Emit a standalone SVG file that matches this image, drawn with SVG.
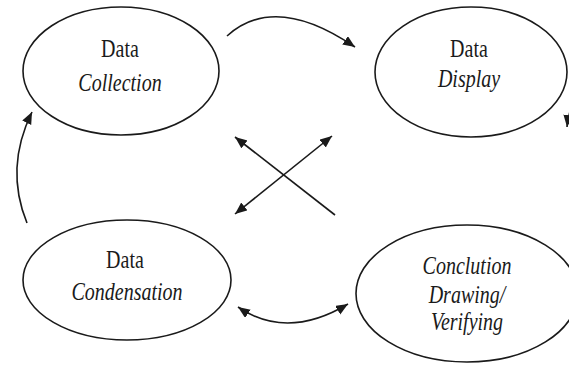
<svg xmlns="http://www.w3.org/2000/svg" width="569" height="368" viewBox="0 0 569 368">
<style>
.node ellipse{fill:#fff;stroke:#1a1a1a;stroke-width:1.6}
.t{font-family:"Liberation Serif","Times New Roman",serif;font-size:20px;fill:#1a1a1a;text-anchor:middle}
.i{font-style:italic}
.conn path{fill:none;stroke:#1a1a1a;stroke-width:1.6}
</style>
<defs>
<marker id="ah" markerUnits="userSpaceOnUse" markerWidth="14" markerHeight="12" refX="12" refY="5" orient="auto-start-reverse">
<path d="M0,0 L12,5 L0,10 Z" fill="#1a1a1a"/>
</marker>
</defs>
<rect width="569" height="368" fill="#fff"/>
<g id="n-collection" class="node">
<ellipse cx="121" cy="71" rx="98" ry="64"/>
<text class="t" transform="translate(120,57) scale(1,1.3)">Data</text>
<text class="t i" transform="translate(120,91) scale(1,1.3)">Collection</text>
</g>
<g id="n-display" class="node">
<ellipse cx="471" cy="72" rx="96" ry="65"/>
<text class="t" transform="translate(469,57) scale(1,1.3)">Data</text>
<text class="t i" transform="translate(469,87) scale(1,1.3)">Display</text>
</g>
<g id="n-condensation" class="node">
<ellipse cx="127" cy="280" rx="104" ry="60"/>
<text class="t" transform="translate(125,268) scale(1,1.3)">Data</text>
<text class="t i" transform="translate(127,300) scale(1,1.3)">Condensation</text>
</g>
<g id="n-conclusion" class="node">
<ellipse cx="467" cy="293.5" rx="111" ry="68.5"/>
<text class="t i" transform="translate(467,274) scale(1,1.3)">Conclution</text>
<text class="t i" transform="translate(467,303) scale(1,1.3)">Drawing/</text>
<text class="t i" transform="translate(467,330) scale(1,1.3)">Verifying</text>
</g>
<g id="connectors" class="conn">
<path d="M227,36 Q275,-7.5 355,47" marker-end="url(#ah)"/>
<path d="M27,223 Q4.5,168 32,112" marker-end="url(#ah)"/>
<path d="M238,307 Q287,340.5 348,304" marker-start="url(#ah)" marker-end="url(#ah)"/>
<path d="M335,215 L235,137" marker-end="url(#ah)"/>
<path d="M235,214 L332,136" marker-start="url(#ah)" marker-end="url(#ah)"/>
<path d="M575,98 Q569,110 567,127" marker-end="url(#ah)"/>
</g>
</svg>
